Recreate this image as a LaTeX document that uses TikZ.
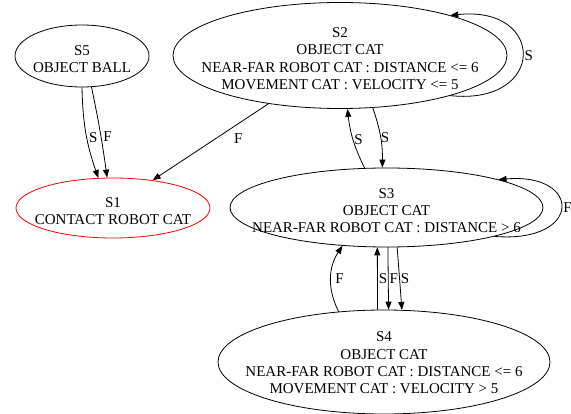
\documentclass[tikz,border=0pt]{standalone}
\usepackage{fontspec}
\setmainfont{Liberation Serif}
\usetikzlibrary{arrows.meta,shapes.geometric}
\begin{document}
\begin{tikzpicture}[x=1pt,y=-1pt,
  state/.style={draw, ellipse, line width=0.8pt, inner sep=0pt},
  txt/.style={align=center, font=\fontsize{15}{17.3}\selectfont, inner sep=0pt, yshift=-3pt},
  edge/.style={draw, line width=0.8pt, -{Triangle[length=8pt,width=6pt]}},
  lbl/.style={font=\fontsize{15}{17}\selectfont, inner sep=0pt}]
\useasboundingbox[fill=white] (0,0) rectangle (571,414);

\node[state, minimum width=134pt, minimum height=62pt,
  label={[txt]center:{S5\\OBJECT BALL}}] (s5) at (82,56) {};
\node[state, draw=red, minimum width=194pt, minimum height=60pt,
  label={[txt]center:{S1\\CONTACT ROBOT CAT}}] (s1) at (113,208) {};
\node[state, minimum width=334pt, minimum height=106pt,
  label={[txt]center:{S2\\OBJECT CAT\\NEAR-FAR ROBOT CAT : DISTANCE <= 6\\MOVEMENT CAT : VELOCITY <= 5}}] (s2) at (340,55.5) {};
\node[state, minimum width=313pt, minimum height=79pt,
  label={[txt]center:{S3\\OBJECT CAT\\NEAR-FAR ROBOT CAT : DISTANCE > 6}}] (s3) at (386.5,207.5) {};
\node[state, minimum width=332pt, minimum height=104pt,
  label={[txt, yshift=2pt]center:{S4\\OBJECT CAT\\NEAR-FAR ROBOT CAT : DISTANCE <= 6\\MOVEMENT CAT : VELOCITY > 5}}] (s4) at (384,362) {};

% S5 -> S1
\draw[edge] (s5.-90) to[bend right=9] node[lbl, pos=.55, right=2pt] {S} (s1.116.6);
\draw[edge] (s5.-73.8) to[bend left=2] node[lbl, pos=.55, right=2pt] {F} (s1.101.3);
% S2 -> S1
\draw[edge] (s2.-146) -- node[lbl, pos=.45, xshift=22pt] {F} (s1.35.5);
% S2 loop
\draw[edge] (s2.-20.6) .. controls +(96,10) and +(96,-10) .. node[lbl, pos=.5, right=2pt] {S} (s2.20.6);
% S3 <-> S2
\draw[edge] (s3.119.4) to[bend left=10] node[lbl, pos=.5, right=1pt] {S} (s2.-82.7);
\draw[edge] (s2.-58.4) to[bend left=10] node[lbl, pos=.5, right=0pt] {S} (s3.96);
% S3 loop
\draw[edge] (s3.-15.9) .. controls +(88,7) and +(84,-7) .. node[lbl, pos=.5, right=2pt] {F} (s3.14.7);
% S4 <-> S3
\draw[edge] (s4.132.2) to[bend left=30] node[lbl, pos=.5, right=4pt] {F} (s3.-139);
\draw[edge] (s4.97.4) -- node[lbl, pos=.5, right=1pt] {S} (s3.-103.5);
\draw[edge] (s3.-88) -- node[lbl, pos=.5, right=1pt] {F} (s4.85.8);
\draw[edge] (s3.-75) -- node[lbl, pos=.5, right=1pt] {S} (s4.71.6);
\end{tikzpicture}
\end{document}
